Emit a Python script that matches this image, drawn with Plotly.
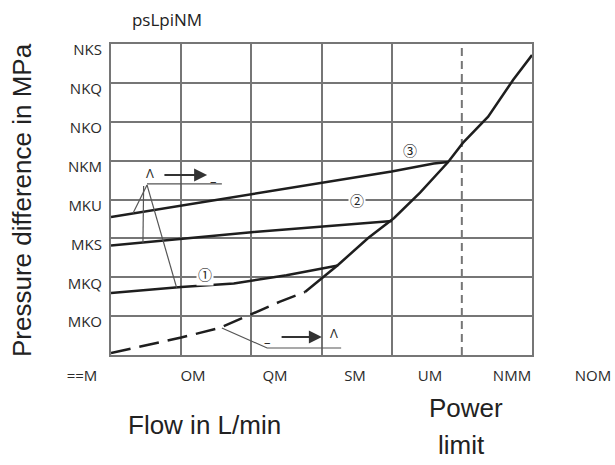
import plotly.graph_objects as go

# ---------------- data ----------------
x_ticks = [0, 20, 40, 60, 80, 100, 120]
x_tick_labels = ["==M", "OM", "QM", "SM", "UM", "NMM", "NOM"]
y_ticks = [0.2, 0.4, 0.6, 0.8, 1.0, 1.2, 1.4, 1.6]
y_tick_labels = ["MKO", "MKQ", "MKS", "MKU", "NKM", "NKO", "NKQ", "NKS"]

curve1_x = [0, 20, 35, 50, 64.7]
curve1_y = [0.319, 0.350, 0.368, 0.410, 0.460]
curve2_x = [0, 40, 80.1]
curve2_y = [0.563, 0.632, 0.690]
curve3_x = [0, 40, 80, 92, 96.1]
curve3_y = [0.710, 0.828, 0.944, 0.985, 0.993]
dashed_x = [0, 20, 31, 40, 48, 55.3]
dashed_y = [0.010, 0.090, 0.139, 0.210, 0.273, 0.324]
limit_curve_x = [55.3, 64.7, 73.3, 80.7, 88.1, 96.1, 100.3, 107.5, 114.6, 120]
limit_curve_y = [0.324, 0.463, 0.602, 0.705, 0.835, 0.993, 1.091, 1.226, 1.415, 1.543]
power_limit_x = 100

# ---------------- layout constants ----------------
W, H = 615, 465
PL, PR, PT, PB = 111, 532, 44, 355
x_label_px = [82, 193, 275, 355, 430, 512, 593]
LABEL_ROW = 364  # pixel row of the (invisible) label axis line

GRID = "#767676"
INK = "#1e1e1e"
LEAD = "#555555"

fig = go.Figure()

def line(x, y, color=INK, width=2.5, dash="solid", xa="x", ya="y"):
    fig.add_trace(go.Scatter(x=x, y=y, mode="lines", xaxis=xa, yaxis=ya,
                             line=dict(color=color, width=width, dash=dash),
                             hoverinfo="skip", showlegend=False))

# power limit vertical dashed line
line([power_limit_x, power_limit_x], [0, 1.6], color=GRID, width=2, dash="8px,5px")

# curves
line(curve1_x, curve1_y)
line(curve2_x, curve2_y)
line(curve3_x, curve3_y)
line(dashed_x, dashed_y, dash="20px,9px")
line(limit_curve_x, limit_curve_y)

# leader lines (top group)
apex = (10.26, 0.875)
line([apex[0], 6.27], [apex[1], 0.729], color=LEAD, width=1.2)
line([9.3, 9.1], [0.870, 0.578], color=LEAD, width=1.2)
line([apex[0], 18.7], [apex[1], 0.347], color=LEAD, width=1.2)
line([apex[0], 31.6], [0.880, 0.880], color=LEAD, width=1.2)
# leader lines (bottom group)
line([31.6, 44.5, 65.6], [0.139, 0.036, 0.036], color=LEAD, width=1.2)

# invisible trace for the label axis
fig.add_trace(go.Scatter(x=[x_label_px[0]], y=[None], xaxis="x2", yaxis="y3",
                         mode="markers", hoverinfo="skip", showlegend=False))

annotations = []
tick_font = dict(family="Open Sans", size=15, color="#2a2a2a")
small = dict(family="Open Sans", size=13, color="#2a2a2a")

def arrow(x0, x1, y):
    annotations.append(dict(x=x1, y=y, ax=x0, ay=y, xref="x", yref="y", axref="x", ayref="y",
                            text="", showarrow=True, arrowhead=2, arrowsize=1.3,
                            arrowwidth=2, arrowcolor="#333"))

arrow(14.8, 27.4, 0.926)
arrow(48.2, 60.1, 0.093)
annotations += [
    dict(x=11.1, y=0.936, text="Λ", xref="x", yref="y", showarrow=False, font=small),
    dict(x=29.1, y=0.893, text="–", xref="x", yref="y", showarrow=False, font=small),
    dict(x=44.5, y=0.067, text="–", xref="x", yref="y", showarrow=False, font=small),
    dict(x=63.6, y=0.113, text="Λ", xref="x", yref="y", showarrow=False, font=small),
    dict(x=26.8, y=0.417, text="①", xref="x", yref="y", showarrow=False, bgcolor="white",
         font=dict(family="Noto Sans CJK JP", size=14, color="#222")),
    dict(x=70.1, y=0.797, text="②", xref="x", yref="y", showarrow=False, bgcolor="white",
         font=dict(family="Noto Sans CJK JP", size=14, color="#222")),
    dict(x=85.2, y=1.055, text="③", xref="x", yref="y", showarrow=False,
         font=dict(family="Noto Sans CJK JP", size=14, color="#222")),
    # axis titles
    dict(x=22 / W, y=1 - 200 / H, xref="paper", yref="paper", text="Pressure difference in MPa",
         textangle=-90, showarrow=False, xanchor="center", yanchor="middle",
         font=dict(family="Liberation Sans", size=26, color="#222")),
    dict(x=204 / W, y=1 - 425 / H, xref="paper", yref="paper", text="Flow in L/min",
         showarrow=False, xanchor="center", yanchor="middle",
         font=dict(family="Liberation Sans", size=26, color="#222")),
    dict(x=466 / W, y=1 - 408 / H, xref="paper", yref="paper", text="Power",
         showarrow=False, xanchor="center", yanchor="middle",
         font=dict(family="Liberation Sans", size=26, color="#222")),
    dict(x=461 / W, y=1 - 445 / H, xref="paper", yref="paper", text="limit",
         showarrow=False, xanchor="center", yanchor="middle",
         font=dict(family="Liberation Sans", size=26, color="#222")),
]

fig.update_layout(
    width=W, height=H,
    margin=dict(l=0, r=0, t=0, b=0, pad=0, autoexpand=False),
    paper_bgcolor="white", plot_bgcolor="rgba(0,0,0,0)",
    title=dict(text="psLpiNM", x=167 / W, y=1 - 20 / H, xref="container", yref="container",
               xanchor="center", yanchor="middle", automargin=False,
               font=dict(family="Open Sans", size=17, color="#222")),
    xaxis=dict(domain=[PL / W, PR / W], range=[0, 120], tickvals=[20, 40, 60, 80],
               showticklabels=False, ticks="", showgrid=True, gridcolor=GRID, gridwidth=1.5,
               zeroline=False, showline=True, linecolor=GRID, linewidth=2, mirror=True,
               automargin=False, fixedrange=True),
    yaxis=dict(domain=[1 - PB / H, 1 - PT / H], range=[0, 1.6], tickvals=y_ticks,
               ticktext=y_tick_labels, ticks="", showgrid=True, gridcolor=GRID, gridwidth=1.5,
               zeroline=False, showline=True, linecolor=GRID, linewidth=2, mirror=True,
               tickfont=tick_font, ticklabelshift=6, ticklabelstandoff=4,
               automargin=False, fixedrange=True),
    xaxis2=dict(domain=[0, 1], range=[0, W], anchor="y3",
                tickvals=x_label_px, ticktext=x_tick_labels, ticks="", showgrid=False,
                zeroline=False, showline=False, tickfont=tick_font,
                automargin=False, fixedrange=True),
    yaxis3=dict(domain=[1 - (LABEL_ROW + 1) / H, 1 - LABEL_ROW / H], anchor="x2",
                visible=False, automargin=False, fixedrange=True),
    annotations=annotations,
)

fig.write_html("out.html", config={"displayModeBar": False},
               post_script="document.body.style.margin='0px';")
